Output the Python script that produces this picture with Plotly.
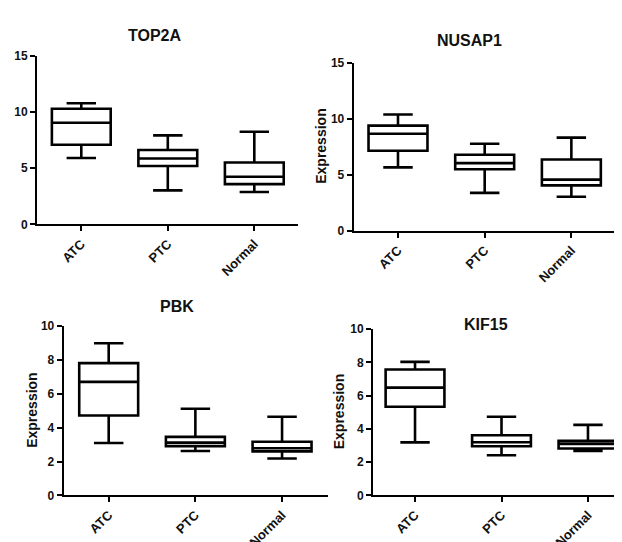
import plotly.graph_objects as go

categories = ["ATC", "PTC", "Normal"]

genes = ["TOP2A", "NUSAP1", "PBK", "KIF15"]

# box statistics per gene: lower whisker, Q1, median, Q3, upper whisker
top2a_low = [5.91, 3.03, 2.88]
top2a_q1 = [7.10, 5.20, 3.58]
top2a_med = [9.06, 5.87, 4.24]
top2a_q3 = [10.30, 6.63, 5.51]
top2a_high = [10.79, 7.93, 8.25]

nusap1_low = [5.66, 3.38, 3.03]
nusap1_q1 = [7.14, 5.49, 4.05]
nusap1_med = [8.67, 6.04, 4.57]
nusap1_q3 = [9.39, 6.79, 6.36]
nusap1_high = [10.38, 7.77, 8.32]

pbk_low = [3.10, 2.62, 2.18]
pbk_q1 = [4.72, 2.91, 2.60]
pbk_med = [6.71, 3.12, 2.79]
pbk_q3 = [7.82, 3.46, 3.17]
pbk_high = [8.99, 5.12, 4.65]

kif15_low = [3.19, 2.41, 2.68]
kif15_q1 = [5.33, 2.96, 2.82]
kif15_med = [6.48, 3.20, 3.10]
kif15_q3 = [7.57, 3.62, 3.28]
kif15_high = [8.03, 4.73, 4.24]

y_max = [15, 15, 10, 10]
y_dtick = [5, 5, 2, 2]
y_title = [None, "Expression", "Expression", "Expression"]

stats = [
    (top2a_low, top2a_q1, top2a_med, top2a_q3, top2a_high),
    (nusap1_low, nusap1_q1, nusap1_med, nusap1_q3, nusap1_high),
    (pbk_low, pbk_q1, pbk_med, pbk_q3, pbk_high),
    (kif15_low, kif15_q1, kif15_med, kif15_q3, kif15_high),
]

W, H = 622, 542
FONT = "Arial, Liberation Sans, sans-serif"

# panel geometry in pixels: x0, x1, ytop, ybottom, xrange
panels = [
    (29, 290, 42.3, 215.7, [-0.512, 2.505]),
    (345.7, 606.7, 49.3, 222.3, [-0.511, 2.50]),
    (55.7, 320, 320.7, 495, [-0.519, 2.53]),
    (365, 622, 323.7, 495, [-0.486, 2.486]),
]
title_pos = [(147, 21), (461, 26), (169, 300), (478, 319)]
ytitle_x = [None, 313, 24, 331]

fig = go.Figure()
annotations = []
for i, (g, st) in enumerate(zip(genes, stats)):
    low, q1, med, q3, high = st
    n = "" if i == 0 else str(i + 1)
    fig.add_trace(go.Box(
        x=categories, q1=q1, median=med, q3=q3,
        lowerfence=low, upperfence=high,
        xaxis="x" + n, yaxis="y" + n,
        fillcolor="white", line=dict(color="black", width=2.6),
        whiskerwidth=0.5, width=0.68, boxpoints=False,
        showlegend=False, hoverinfo="skip",
    ))
    x0, x1, yt, yb, xr = panels[i]
    axis_common = dict(showline=True, linecolor="black", linewidth=2,
                       ticks="outside", tickcolor="black", tickwidth=2, ticklen=5,
                       showgrid=False, zeroline=False)
    fig.update_layout(**{
        "xaxis" + n: dict(domain=[x0 / W, x1 / W], anchor="y" + n, range=xr,
                          tickangle=-45, type="category",
                          tickfont=dict(family=FONT, size=13, color="#111", weight="bold"),
                          **axis_common),
        "yaxis" + n: dict(domain=[1 - yb / H, 1 - yt / H], anchor="x" + n,
                          range=[0, y_max[i]], dtick=y_dtick[i], tick0=0,
                          tickfont=dict(family=FONT, size=12, color="#111", weight="bold"),
                          **axis_common),
    })
    tx, ty = title_pos[i]
    annotations.append(dict(text=g, x=tx / W, y=1 - ty / H, xref="paper", yref="paper",
                            showarrow=False, xanchor="center", yanchor="middle",
                            font=dict(family=FONT, size=16, color="#111", weight="bold")))
    if y_title[i]:
        annotations.append(dict(text=y_title[i], x=ytitle_x[i] / W, y=1 - (yt + yb) / 2 / H,
                                xref="paper", yref="paper", showarrow=False, textangle=-90,
                                xanchor="center", yanchor="middle",
                                font=dict(family=FONT, size=14, color="#111", weight="bold")))

fig.update_layout(width=W, height=H, margin=dict(l=0, r=0, t=0, b=0),
                  paper_bgcolor="white", plot_bgcolor="white",
                  annotations=annotations)
fig.write_html("out.html")
